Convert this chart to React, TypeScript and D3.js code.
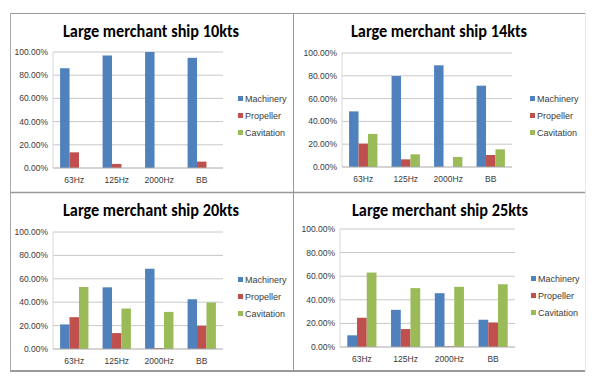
import React from "react";
import * as d3 from "d3";

const categories = ["63Hz", "125Hz", "2000Hz", "BB"];
const seriesNames = ["Machinery", "Propeller", "Cavitation"];
const seriesColors = ["#4F81BD", "#C0504D", "#9BBB59"];
const yTicks = [0, 0.2, 0.4, 0.6, 0.8, 1.0];

const titles = [
  "Large merchant ship 10kts",
  "Large merchant ship 14kts",
  "Large merchant ship 20kts",
  "Large merchant ship 25kts",
];

// values per panel: [Machinery, Propeller, Cavitation] per category
const machinery10 = [0.86, 0.97, 1.0, 0.95];
const propeller10 = [0.135, 0.035, 0, 0.055];
const cavitation10 = [0, 0, 0, 0];

const machinery14 = [0.488, 0.798, 0.892, 0.713];
const propeller14 = [0.205, 0.067, 0, 0.105];
const cavitation14 = [0.29, 0.111, 0.088, 0.155];

const machinery20 = [0.21, 0.527, 0.686, 0.425];
const propeller20 = [0.272, 0.136, 0.008, 0.198];
const cavitation20 = [0.53, 0.346, 0.317, 0.397];

const machinery25 = [0.099, 0.315, 0.456, 0.231];
const propeller25 = [0.248, 0.152, 0.006, 0.208];
const cavitation25 = [0.631, 0.499, 0.51, 0.532];

const panelSeries = [
  [machinery10, propeller10, cavitation10],
  [machinery14, propeller14, cavitation14],
  [machinery20, propeller20, cavitation20],
  [machinery25, propeller25, cavitation25],
];

// layout (positions only)
const layouts = [
  { x0: 10, y0: 13, x1: 293, y1: 192, left: 53, right: 223, top: 52, bottom: 168, titleX: 151, titleY: 37, legX: 238, legY: 99 },
  { x0: 293, y0: 13, x1: 585, y1: 192, left: 342, right: 512, top: 53, bottom: 167, titleX: 439, titleY: 37, legX: 530, legY: 99 },
  { x0: 10, y0: 192, x1: 293, y1: 371, left: 53, right: 223, top: 232, bottom: 349, titleX: 151, titleY: 216, legX: 238, legY: 280 },
  { x0: 293, y0: 192, x1: 585, y1: 371, left: 340, right: 515, top: 229, bottom: 347, titleX: 440, titleY: 216, legX: 531, legY: 279 },
];

const smallFont = "'Liberation Sans', Arial, sans-serif";
const titleFont = "Carlito, Calibri, Lato, 'Open Sans', sans-serif";

function Panel({ idx }: { idx: number }) {
  const L = layouts[idx];
  const series = panelSeries[idx];
  const x = d3.scaleBand<string>().domain(categories).range([L.left, L.right]).padding(0);
  const xi = d3
    .scaleBand<string>()
    .domain(seriesNames)
    .range([0, x.step()])
    .paddingInner(0)
    .paddingOuter(0.75);
  const y = d3.scaleLinear().domain([0, 1]).range([L.bottom, L.top]);
  const fmt = d3.format(".2%");
  return (
    <g>
      <text
        x={L.titleX}
        y={L.titleY}
        textAnchor="middle"
        fontFamily={titleFont}
        fontWeight="bold"
        fontSize={18}
        fill="#000"
        textLength={176}
        lengthAdjust="spacingAndGlyphs"
      >
        {titles[idx]}
      </text>
      {yTicks.map((t) => (
        <g key={t}>
          {t > 0 && (
            <line x1={L.left} x2={L.right} y1={y(t)} y2={y(t)} stroke="#c8c8c8" strokeWidth={1} />
          )}
          <text
            x={L.left - 5}
            y={y(t) + 3}
            textAnchor="end"
            fontFamily={smallFont}
            fontSize={8.5}
            fill="#3a3a3a"
          >
            {fmt(t)}
          </text>
        </g>
      ))}
      <line x1={L.left} x2={L.left} y1={L.top} y2={L.bottom} stroke="#d8d8d8" strokeWidth={1} />
      {categories.map((c, ci) => (
        <g key={c}>
          {seriesNames.map((s, si) => {
            const v = series[si][ci];
            if (v <= 0) return null;
            return (
              <rect
                key={s}
                x={(x(c) as number) + (xi(s) as number)}
                y={y(v)}
                width={xi.bandwidth()}
                height={L.bottom - y(v)}
                fill={seriesColors[si]}
              />
            );
          })}
          <text
            x={(x(c) as number) + x.bandwidth() / 2}
            y={L.bottom + 15}
            textAnchor="middle"
            fontFamily={smallFont}
            fontSize={8.5}
            fill="#3a3a3a"
          >
            {c}
          </text>
        </g>
      ))}
      <line x1={L.left} x2={L.right} y1={L.bottom} y2={L.bottom} stroke="#a8a8a8" strokeWidth={1} />
      {seriesNames.map((s, si) => (
        <g key={s}>
          <rect x={L.legX} y={L.legY + si * 17 - 3} width={5} height={5} fill={seriesColors[si]} />
          <text
            x={L.legX + 7}
            y={L.legY + si * 17 + 3}
            fontFamily={smallFont}
            fontSize={9}
            fill="#3a3a3a"
          >
            {s}
          </text>
        </g>
      ))}
    </g>
  );
}

export default function App() {
  return (
    <svg
      width={607}
      height={380}
      style={{ position: "absolute", left: 0, top: 0, background: "#fff" }}
    >
      <rect x={0} y={0} width={607} height={380} fill="#fff" />
      {/* borders */}
      <line x1={10} x2={585} y1={13.5} y2={13.5} stroke="#999" strokeWidth={1} />
      <line x1={10} x2={585} y1={192.5} y2={192.5} stroke="#999" strokeWidth={1.5} />
      <line x1={10} x2={585} y1={371} y2={371} stroke="#999" strokeWidth={2} />
      <line x1={10.5} x2={10.5} y1={13} y2={371} stroke="#aaa" strokeWidth={1} />
      <line x1={293.5} x2={293.5} y1={13} y2={371} stroke="#999" strokeWidth={1} />
      <line x1={585.5} x2={585.5} y1={13} y2={371} stroke="#e8e8e8" strokeWidth={1} />
      {layouts.map((_, i) => (
        <Panel key={i} idx={i} />
      ))}
    </svg>
  );
}
